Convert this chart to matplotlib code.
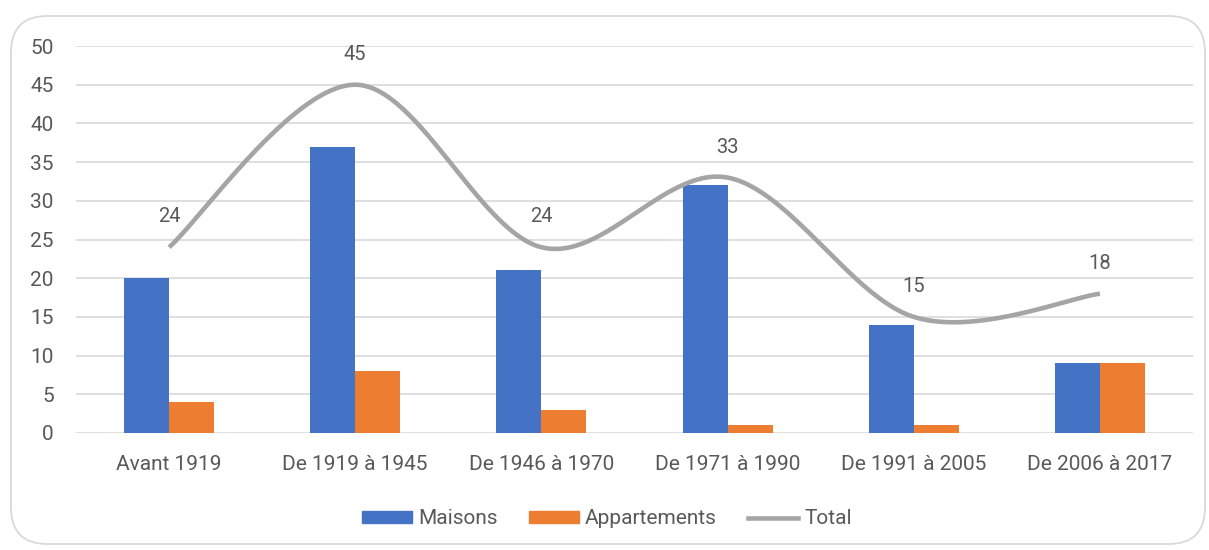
import numpy as np
import matplotlib
matplotlib.use("Agg")
import matplotlib.pyplot as plt
from matplotlib.patches import FancyBboxPatch, Patch
from matplotlib.lines import Line2D

categories = ["Avant 1919", "De 1919 à 1945", "De 1946 à 1970",
              "De 1971 à 1990", "De 1991 à 2005", "De 2006 à 2017"]
maisons = [20, 37, 21, 32, 14, 9]
appartements = [4, 8, 3, 1, 1, 9]
total = [24, 45, 24, 33, 15, 18]
yticks = [0, 5, 10, 15, 20, 25, 30, 35, 40, 45, 50]

BLUE = "#4472C4"
ORANGE = "#ED7D31"
GRAY = "#A5A5A5"
TEXT = "#595959"

plt.rcParams['font.family'] = ['Roboto', 'DejaVu Sans']

fig = plt.figure(figsize=(12.09, 5.5), dpi=100)
ax = fig.add_axes([76/1209, 1-433/550, (1193-76)/1209, (433-46)/550])

x = np.arange(len(categories))
w = 0.242
ax.bar(x - w/2, maisons, width=w, color=BLUE, zorder=2)
ax.bar(x + w/2, appartements, width=w, color=ORANGE, zorder=2)

# Catmull-Rom smoothing (Excel-like smoothed line) through the data points
pts = np.column_stack([x, total]).astype(float)
ext = np.vstack([pts[0], pts, pts[-1]])
curve = []
t = np.linspace(0, 1, 60)
for i in range(1, len(ext) - 2):
    p0, p1, p2, p3 = ext[i-1], ext[i], ext[i+1], ext[i+2]
    c1 = p1 + (p2 - p0) / 6
    c2 = p2 - (p3 - p1) / 6
    seg = ((1-t)**3)[:, None]*p1 + (3*(1-t)**2*t)[:, None]*c1 + (3*(1-t)*t**2)[:, None]*c2 + (t**3)[:, None]*p2
    curve.append(seg)
curve = np.vstack(curve)
ax.plot(curve[:, 0], curve[:, 1], color=GRAY, lw=3.3, solid_capstyle='butt', zorder=3)

for xi, v in zip(x, total):
    ax.annotate(str(v), (xi, v), xytext=(0, 15), textcoords='offset points',
                ha='center', va='bottom', fontsize=14.5, color=TEXT)

ax.set_xlim(-0.5, len(categories) - 0.5)
ax.set_ylim(0, 50)
ax.set_yticks(yticks)
ax.set_xticks(x)
ax.set_xticklabels(categories)
ax.grid(axis='y', color='#D9D9D9', lw=1.2, zorder=0)
ax.set_axisbelow(True)
for s in ax.spines.values():
    s.set_visible(False)
ax.tick_params(axis='both', length=0, labelsize=15, colors=TEXT)
ax.tick_params(axis='y', pad=16)
ax.tick_params(axis='x', pad=16)

handles = [Patch(color=BLUE, label='Maisons'),
           Patch(color=ORANGE, label='Appartements'),
           Line2D([0], [0], color=GRAY, lw=3.3, label='Total')]
fig.legend(handles=handles, loc='center', bbox_to_anchor=(607/1209, 1-519/550),
           ncol=3, frameon=False, fontsize=15, labelcolor=TEXT,
           handlelength=2.4, handleheight=0.5, handletextpad=0.3, columnspacing=1.5)

border = FancyBboxPatch((11/1209, 1-544/550), (1205-11)/1209, (544-16)/550,
                        boxstyle="round,pad=0,rounding_size=0.03",
                        transform=fig.transFigure, fill=False,
                        edgecolor='#D9D9D9', lw=1.3, mutation_aspect=1209/550)
fig.patches.append(border)

fig.savefig("out.png", dpi=100)
